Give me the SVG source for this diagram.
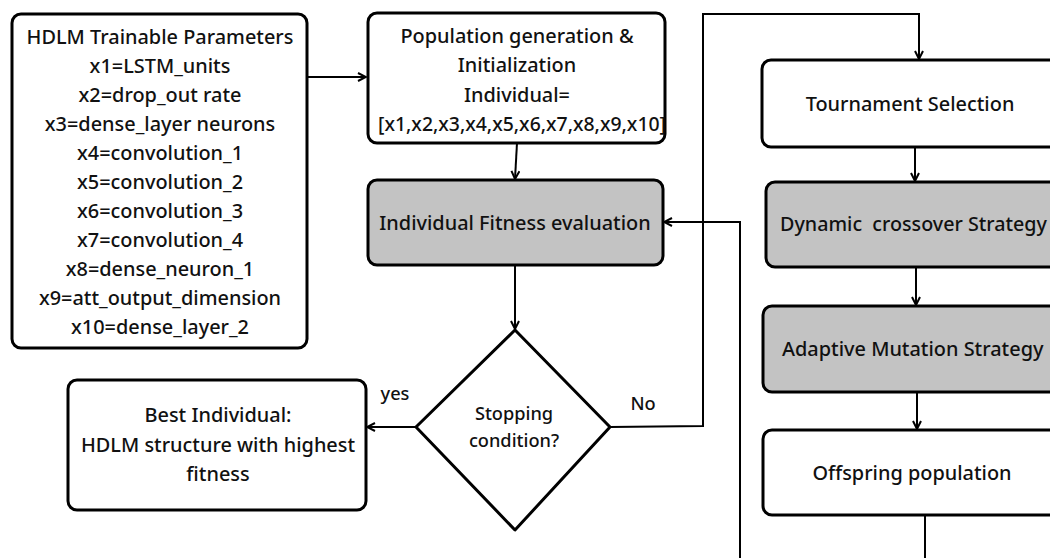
<svg xmlns="http://www.w3.org/2000/svg" width="1050" height="558" viewBox="0 0 1050 558">
<style>
.box{fill:#ffffff;stroke:#000;stroke-width:3}
.grey{fill:#c3c3c3;stroke:#000;stroke-width:3}
.t{font-family:"Noto Sans","Open Sans",sans-serif;font-size:19.9px;font-weight:500;fill:#111;text-anchor:middle;dominant-baseline:central}
.s{font-family:"Noto Sans","Open Sans",sans-serif;font-size:18.2px;font-weight:500;fill:#111;text-anchor:middle;dominant-baseline:central}
.c{fill:none;stroke:#000;stroke-width:2}
</style>
<defs>
<marker id="ah" viewBox="0 0 10 10" refX="9" refY="5" markerWidth="10" markerHeight="10" markerUnits="userSpaceOnUse" orient="auto">
<path d="M1,1 L9,5 L1,9" fill="none" stroke="#000" stroke-width="2"/>
</marker>
</defs>
<rect width="1050" height="558" fill="#ffffff"/>
<g id="params">
<rect class="box" x="12" y="14" width="295" height="334" rx="9"/>
<text class="t" x="160" y="36">HDLM Trainable Parameters</text>
<text class="t" x="160" y="65">x1=LSTM_units</text>
<text class="t" x="160" y="94">x2=drop_out rate</text>
<text class="t" x="160" y="123">x3=dense_layer neurons</text>
<text class="t" x="160" y="152">x4=convolution_1</text>
<text class="t" x="160" y="181">x5=convolution_2</text>
<text class="t" x="160" y="210">x6=convolution_3</text>
<text class="t" x="160" y="239">x7=convolution_4</text>
<text class="t" x="160" y="268">x8=dense_neuron_1</text>
<text class="t" x="160" y="297">x9=att_output_dimension</text>
<text class="t" x="160" y="326">x10=dense_layer_2</text>
</g>
<g id="population">
<rect class="box" x="368" y="13" width="297" height="130" rx="9"/>
<text class="t" x="517" y="35">Population generation &amp;</text>
<text class="t" x="517" y="64">Initialization</text>
<text class="t" x="517" y="94">Individual=</text>
<text class="t" x="522" y="123" textLength="288" lengthAdjust="spacingAndGlyphs">[x1,x2,x3,x4,x5,x6,x7,x8,x9,x10]</text>
</g>
<g id="fitness">
<rect class="grey" x="368" y="180" width="295" height="85" rx="9"/>
<text class="t" x="515" y="222">Individual Fitness evaluation</text>
</g>
<g id="stopping">
<polygon class="box" points="515,330 610,427 515,530 416,427" stroke-linejoin="round"/>
<text class="s" x="514" y="413">Stopping</text>
<text class="s" x="514" y="440">condition?</text>
</g>
<g id="best">
<rect class="box" x="68" y="380" width="298" height="130" rx="9"/>
<text class="t" x="218" y="414">Best Individual:</text>
<text class="t" x="218" y="444">HDLM structure with highest</text>
<text class="t" x="218" y="473">fitness</text>
</g>
<g id="tournament">
<rect class="box" x="762" y="60" width="310" height="87" rx="9"/>
<text class="t" x="910" y="103">Tournament Selection</text>
</g>
<g id="crossover">
<rect class="grey" x="766" y="182" width="306" height="85" rx="9"/>
<text class="t" x="780" y="223" textLength="267" lengthAdjust="spacingAndGlyphs" style="text-anchor:start;white-space:pre">Dynamic  crossover Strategy</text>
</g>
<g id="mutation">
<rect class="grey" x="763" y="306" width="309" height="86" rx="9"/>
<text class="t" x="782" y="348" style="text-anchor:start">Adaptive Mutation Strategy</text>
</g>
<g id="offspring">
<rect class="box" x="763" y="430" width="309" height="85" rx="9"/>
<text class="t" x="912" y="472">Offspring population</text>
</g>
<g id="connectors">
<line class="c" x1="307" y1="77" x2="366" y2="77" marker-end="url(#ah)"/>
<line class="c" x1="517" y1="143" x2="515" y2="179" marker-end="url(#ah)"/>
<line class="c" x1="515" y1="265" x2="515" y2="329" marker-end="url(#ah)"/>
<line class="c" x1="416" y1="427" x2="367" y2="427" marker-end="url(#ah)"/>
<polyline class="c" points="610,427 703,426 703,14 919,14 919,59" marker-end="url(#ah)"/>
<line class="c" x1="915" y1="147" x2="915" y2="181" marker-end="url(#ah)"/>
<line class="c" x1="916" y1="267" x2="916" y2="305" marker-end="url(#ah)"/>
<line class="c" x1="917" y1="392" x2="917" y2="429" marker-end="url(#ah)"/>
<line class="c" x1="925" y1="515" x2="925" y2="558"/>
<polyline class="c" points="740,558 740,222 664,222" marker-end="url(#ah)"/>
<text class="s" x="395" y="393">yes</text>
<text class="s" x="643" y="403">No</text>
</g>
</svg>
